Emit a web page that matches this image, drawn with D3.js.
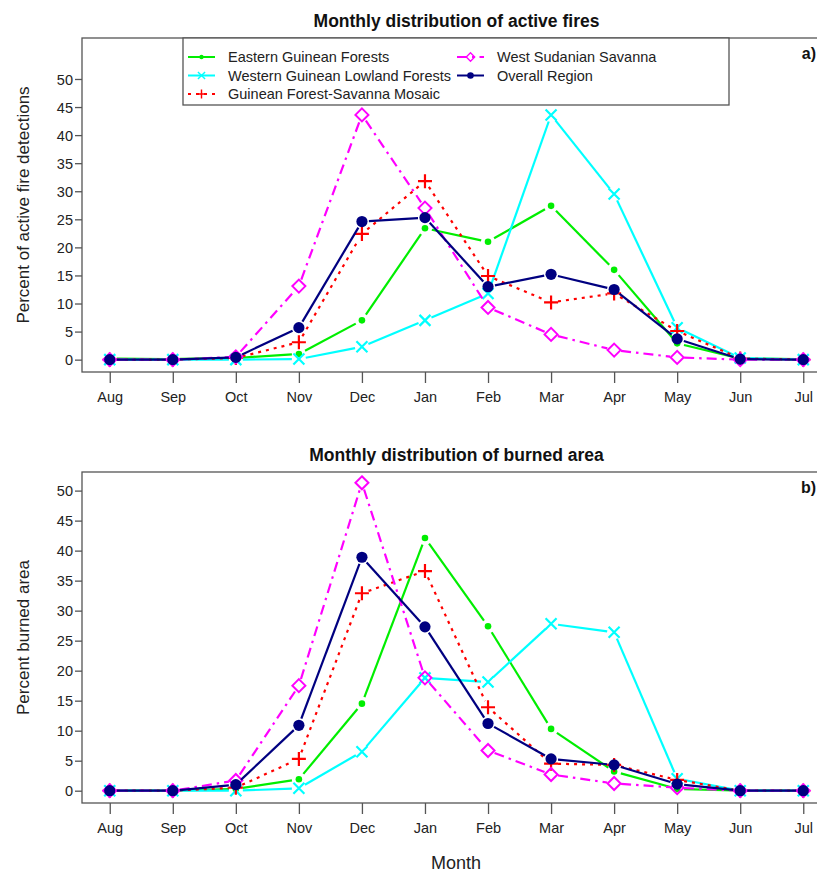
<!DOCTYPE html>
<html>
<head>
<meta charset="utf-8">
<script src="https://cdn.jsdelivr.net/npm/d3@7"></script>
<style>
  body { margin: 0; background: #fff; }
  svg { display: block; font-family: "Liberation Sans", Arial, sans-serif; }
</style>
</head>
<body>
<div id="chart"></div>
<script>
// months along the x axis (Aug -> Jul)
var months = ['Aug', 'Sep', 'Oct', 'Nov', 'Dec', 'Jan', 'Feb', 'Mar', 'Apr', 'May', 'Jun', 'Jul'];
var seriesNames = ['Eastern Guinean Forests', 'Western Guinean Lowland Forests',
    'Guinean Forest-Savanna Mosaic', 'West Sudanian Savanna', 'Overall Region'];
var yTicks = [0, 5, 10, 15, 20, 25, 30, 35, 40, 45, 50];

// a) active fires, percent of detections
var fireEastern  = [0.2, 0.1, 0.3, 1.0, 7.0, 23.4, 21.0, 27.4, 16.0, 2.9, 0.2, 0.1];
var fireWestern  = [0, 0, 0, 0.1, 2.3, 7.0, 11.8, 43.6, 29.5, 5.7, 0.3, 0];
var fireMosaic   = [0, 0, 0.3, 3.1, 22.4, 31.8, 14.9, 10.2, 11.8, 5.1, 0.2, 0];
var fireSudanian = [0, 0, 0.5, 13.1, 43.6, 27.0, 9.3, 4.5, 1.7, 0.4, 0, 0];
var fireOverall  = [0, 0, 0.4, 5.7, 24.6, 25.3, 13.0, 15.2, 12.5, 3.7, 0.1, 0];

// b) burned area, percent
var burnEastern  = [0, 0, 0.3, 1.9, 14.5, 42.1, 27.4, 10.3, 3.2, 0.3, 0, 0];
var burnWestern  = [0, 0, 0, 0.4, 6.5, 18.8, 18.1, 27.8, 26.4, 2.0, 0, 0];
var burnMosaic   = [0, 0, 0.5, 5.3, 32.9, 36.6, 13.9, 4.5, 4.3, 1.8, 0, 0];
var burnSudanian = [0, 0, 1.7, 17.5, 51.3, 18.8, 6.7, 2.7, 1.2, 0.5, 0, 0];
var burnOverall  = [0, 0, 1.0, 10.9, 38.9, 27.3, 11.2, 5.3, 4.3, 1.1, 0, 0];

// look of each series (R-ish: lty + pch)
var styles = [
    {color: '#00ee00', dash: null, shape: 'dot'},
    {color: '#00ffff', dash: null, shape: 'cross'},
    {color: '#ff0000', dash: '3,5', shape: 'plus'},
    {color: '#ff00ff', dash: '10,5,2.5,5', shape: 'diamond'},
    {color: '#000080', dash: null, shape: 'circle'}
];

var W = 817, H = 872;
var svg = d3.select('#chart').append('svg')
    .attr('width', W)
    .attr('height', H);

// shared x scale, R style 4% padding around the 12 months
var x = d3.scaleLinear().domain([-0.44, 11.44]).range([82, 831]);

function drawMarker(g, shape, color, cx, cy) {
    if (shape == 'dot') {
        g.append('circle').attr('cx', cx).attr('cy', cy).attr('r', 3.3).attr('fill', color);
    } else if (shape == 'circle') {
        g.append('circle').attr('cx', cx).attr('cy', cy).attr('r', 5.6).attr('fill', color);
    } else if (shape == 'cross') {
        var s = 5.5;
        g.append('path')
            .attr('d', 'M' + (cx - s) + ',' + (cy - s) + 'L' + (cx + s) + ',' + (cy + s) +
                       'M' + (cx - s) + ',' + (cy + s) + 'L' + (cx + s) + ',' + (cy - s))
            .attr('stroke', color).attr('stroke-width', 2.2).attr('fill', 'none');
    } else if (shape == 'plus') {
        var p = 7;
        g.append('path')
            .attr('d', 'M' + (cx - p) + ',' + cy + 'L' + (cx + p) + ',' + cy +
                       'M' + cx + ',' + (cy - p) + 'L' + cx + ',' + (cy + p))
            .attr('stroke', color).attr('stroke-width', 2.2).attr('fill', 'none');
    } else if (shape == 'diamond') {
        var d = 6.5;
        g.append('path')
            .attr('d', 'M' + cx + ',' + (cy - d) + 'L' + (cx + d) + ',' + cy +
                       'L' + cx + ',' + (cy + d) + 'L' + (cx - d) + ',' + cy + 'Z')
            .attr('stroke', color).attr('stroke-width', 2).attr('fill', 'none');
    }
}

function panel(opt) {
    var y = d3.scaleLinear().domain(opt.domain).range([opt.bottom, opt.top]);
    var g = svg.append('g');

    // series, drawn like R type="b" (gaps around the points)
    opt.series.forEach(function(vals, si) {
        var st = styles[si];
        var sg = g.append('g');
        var pts = vals.map(function(v, i) { return [x(i), y(v)]; });
        var gap = 7;
        for (var i = 0; i < pts.length - 1; i++) {
            var dx = pts[i + 1][0] - pts[i][0], dy = pts[i + 1][1] - pts[i][1];
            var len = Math.sqrt(dx * dx + dy * dy);
            if (len <= 2 * gap) continue;
            var ux = dx / len, uy = dy / len;
            sg.append('line')
                .attr('x1', pts[i][0] + ux * gap).attr('y1', pts[i][1] + uy * gap)
                .attr('x2', pts[i + 1][0] - ux * gap).attr('y2', pts[i + 1][1] - uy * gap)
                .attr('stroke', st.color)
                .attr('stroke-width', 2.2)
                .attr('stroke-dasharray', st.dash);
        }
        pts.forEach(function(p) { drawMarker(sg, st.shape, st.color, p[0], p[1]); });
    });

    // frame
    g.append('rect')
        .attr('x', x.range()[0]).attr('y', opt.top)
        .attr('width', x.range()[1] - x.range()[0])
        .attr('height', opt.bottom - opt.top)
        .attr('fill', 'none').attr('stroke', '#555').attr('stroke-width', 1.3);

    // axes
    var ax = g.append('g')
        .attr('transform', 'translate(0,' + opt.bottom + ')')
        .call(d3.axisBottom(x).tickValues(d3.range(12))
            .tickFormat(function(i) { return months[i]; })
            .tickSize(11).tickSizeOuter(0).tickPadding(9));
    var ay = g.append('g')
        .attr('transform', 'translate(' + x.range()[0] + ',0)')
        .call(d3.axisLeft(y).tickValues(yTicks).tickSize(7).tickSizeOuter(0).tickPadding(2));
    [ax, ay].forEach(function(a) {
        a.select('.domain').remove();
        a.selectAll('line').attr('stroke', '#555').attr('stroke-width', 1.3);
        a.selectAll('text').attr('font-size', 14.5).attr('fill', '#222')
            .attr('font-family', '"Liberation Sans", Arial, sans-serif');
    });
    ay.selectAll('text').attr('dy', '0.36em');

    // titles
    svg.append('text')
        .attr('x', (x.range()[0] + x.range()[1]) / 2).attr('y', opt.top - 11)
        .attr('text-anchor', 'middle').attr('font-size', 17.5).attr('font-weight', 'bold')
        .attr('fill', '#111')
        .text(opt.title);
    svg.append('text')
        .attr('transform', 'translate(29,' + ((opt.top + opt.bottom) / 2) + ') rotate(-90)')
        .attr('text-anchor', 'middle').attr('font-size', 17).attr('fill', '#222')
        .text(opt.ylabel);
    svg.append('text')
        .attr('x', 816).attr('y', opt.top + 21)
        .attr('text-anchor', 'end').attr('font-size', 16).attr('font-weight', 'bold')
        .attr('fill', '#111')
        .text(opt.tag);
    return y;
}

panel({top: 38, bottom: 372, domain: [-2.2, 57.3],
    series: [fireEastern, fireWestern, fireMosaic, fireSudanian, fireOverall],
    title: 'Monthly distribution of active fires',
    ylabel: 'Percent of active fire detections', tag: 'a)'});

panel({top: 472, bottom: 803, domain: [-2.05, 53.1],
    series: [burnEastern, burnWestern, burnMosaic, burnSudanian, burnOverall],
    title: 'Monthly distribution of burned area',
    ylabel: 'Percent burned area', tag: 'b)'});

svg.append('text')
    .attr('x', 456).attr('y', 869)
    .attr('text-anchor', 'middle').attr('font-size', 18).attr('fill', '#222')
    .text('Month');

// legend (top panel)
var leg = svg.append('g');
leg.append('rect')
    .attr('x', 183).attr('y', 38).attr('width', 546).attr('height', 67)
    .attr('fill', '#fff').attr('stroke', '#555').attr('stroke-width', 1.3);
var legPos = [[0, 0], [0, 1], [0, 2], [1, 0], [1, 1]];
var colX = [188, 457], rowY = [57, 75.5, 94];
seriesNames.forEach(function(name, i) {
    var st = styles[i];
    var lx = colX[legPos[i][0]], ly = rowY[legPos[i][1]];
    leg.append('line')
        .attr('x1', lx).attr('x2', lx + 27).attr('y1', ly).attr('y2', ly)
        .attr('stroke', st.color).attr('stroke-width', 2)
        .attr('stroke-dasharray', st.dash);
    var mg = leg.append('g');
    if (st.shape == 'circle') {
        mg.append('circle').attr('cx', lx + 13.5).attr('cy', ly).attr('r', 3.3).attr('fill', st.color);
    } else if (st.shape == 'dot') {
        mg.append('circle').attr('cx', lx + 13.5).attr('cy', ly).attr('r', 2.2).attr('fill', st.color);
    } else {
        drawMarker(mg, st.shape, st.color, lx + 13.5, ly);
        mg.selectAll('path').attr('transform', 'translate(' + (lx + 13.5) + ',' + ly + ') scale(0.65) translate(' + -(lx + 13.5) + ',' + -ly + ')');
    }
    leg.append('text')
        .attr('x', lx + 40).attr('y', ly).attr('dy', '0.35em')
        .attr('font-size', 14.5).attr('fill', '#222')
        .text(name);
});
</script>
</body>
</html>
